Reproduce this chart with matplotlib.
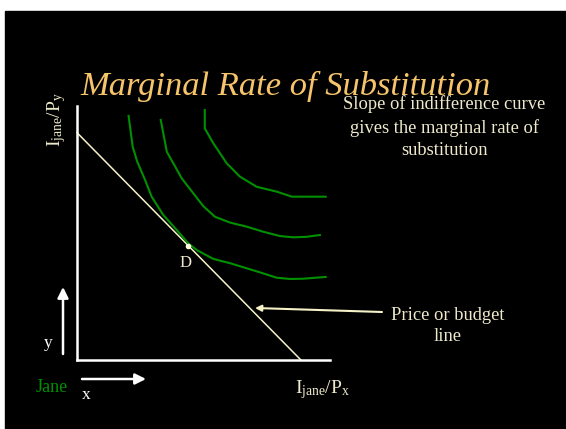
import matplotlib
matplotlib.use("Agg")
import matplotlib.pyplot as plt
from matplotlib.patches import Rectangle

plt.rcParams['font.family'] = ['Liberation Serif', 'DejaVu Serif']
plt.rcParams['mathtext.fontset'] = 'custom'
plt.rcParams['mathtext.rm'] = 'Liberation Serif'
plt.rcParams['mathtext.it'] = 'Liberation Serif:italic'

# --- data (diagram units: both axes 0..10) ---
budget_x = [0.0, 8.85]
budget_y = [8.95, 0.0]

ic1_x = [2.04, 2.20, 2.38, 2.69, 2.95, 3.41, 3.94, 4.40, 4.73, 5.39, 6.05, 6.71, 7.36, 7.89, 8.42, 8.94, 9.83]
ic1_y = [9.61, 8.40, 7.81, 7.09, 6.43, 5.71, 5.12, 4.59, 4.33, 3.98, 3.81, 3.61, 3.41, 3.24, 3.19, 3.20, 3.27]

ic2_x = [3.31, 3.55, 3.81, 4.14, 4.60, 4.99, 5.45, 6.05, 6.71, 7.36, 8.02, 8.55, 9.08, 9.60]
ic2_y = [9.45, 8.20, 7.74, 7.15, 6.56, 6.06, 5.64, 5.41, 5.25, 5.05, 4.88, 4.83, 4.85, 4.92]

ic3_x = [5.05, 5.05, 5.39, 5.92, 6.44, 7.10, 7.89, 8.49, 9.83]
ic3_y = [9.84, 9.12, 8.53, 7.74, 7.22, 6.82, 6.63, 6.43, 6.43]

point_d = (4.40, 4.50)

TXT = '#EEEACB'
GREEN = '#009000'
TITLE = '#F6C46A'

W, H = 566, 429
fig = plt.figure(figsize=(W / 100, H / 100), dpi=100, facecolor='white')

# black slide background
fig.add_artist(Rectangle((5 / W, 0), (W - 5) / W, (H - 11) / H,
                         transform=fig.transFigure, color='black', zorder=-10))

# overlay in pixel coords for slide texts and arrows
ov = fig.add_axes([0, 0, 1, 1])
ov.set_xlim(0, W)
ov.set_ylim(H, 0)
ov.axis('off')
ov.patch.set_alpha(0)

# diagram axes
left, right, top, bottom = 77, 330, 106, 360
ax = fig.add_axes([left / W, 1 - bottom / H, (right - left) / W, (bottom - top) / H])
ax.set_facecolor('none')
ax.set_xlim(0, 10)
ax.set_ylim(0, 10)
for s in ['top', 'right']:
    ax.spines[s].set_visible(False)
for s in ['left', 'bottom']:
    ax.spines[s].set_color('white')
    ax.spines[s].set_linewidth(1.8)
ax.set_xticks([])
ax.set_yticks([])

ax.plot(budget_x, budget_y, color='#F5F2C8', lw=1.1, clip_on=False)
for xs, ys in [(ic1_x, ic1_y), (ic2_x, ic2_y), (ic3_x, ic3_y)]:
    ax.plot(xs, ys, color=GREEN, lw=1.5, clip_on=False)
ax.plot(*point_d, 'o', color='#FFFFE0', ms=3, clip_on=False)

# texts
ov.text(80, 95, 'Marginal Rate of Substitution', color=TITLE, fontsize=24.8,
        style='italic', ha='left', va='baseline')
ov.text(444, 127, 'Slope of indifference curve\ngives the marginal rate of\nsubstitution',
        color=TXT, fontsize=13.3, ha='center', va='center', multialignment='center',
        linespacing=1.42)
ov.text(448, 326, 'Price or budget\nline', color=TXT, fontsize=13.3,
        ha='center', va='center', multialignment='center', linespacing=1.37)
ov.text(186, 263, 'D', color=TXT, fontsize=12, ha='center', va='center')
ov.text(322, 393, r'$\mathrm{I_{jane}/P_{x}}$', color=TXT, fontsize=14,
        ha='center', va='baseline')
ov.text(57, 120, r'$\mathrm{I_{jane}/P_{y}}$', color=TXT, fontsize=14,
        ha='center', va='center', rotation=90)
ov.text(48, 343, 'y', color='white', fontsize=12.5, ha='center', va='center')
ov.text(86, 395, 'x', color='white', fontsize=12.5, ha='center', va='center')
ov.text(52, 388, 'Jane', color=GREEN, fontsize=13, ha='center', va='center')

# arrows
ov.annotate('', xy=(63, 287), xytext=(63, 354),
            arrowprops=dict(arrowstyle='-|>', color='white', lw=1.8, mutation_scale=16,
                            shrinkA=0, shrinkB=0))
ov.annotate('', xy=(146, 379), xytext=(82, 379),
            arrowprops=dict(arrowstyle='-|>', color='white', lw=1.8, mutation_scale=16,
                            shrinkA=0, shrinkB=0))
ov.annotate('', xy=(255, 308), xytext=(382, 312),
            arrowprops=dict(arrowstyle='-|>', color='#F5F2C8', lw=1.5, mutation_scale=9,
                            shrinkA=0, shrinkB=0))

fig.savefig('out.png', dpi=100, facecolor='white')
